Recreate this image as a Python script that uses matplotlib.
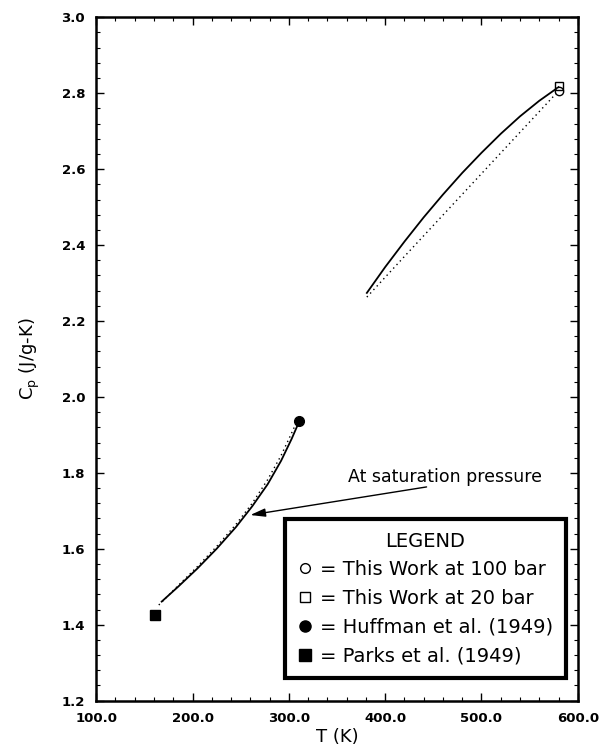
import matplotlib
matplotlib.use("Agg")
import matplotlib.pyplot as plt
from matplotlib.lines import Line2D
from matplotlib.ticker import MultipleLocator, FormatStrFormatter

# measured points
t_100bar = [580.0]
cp_100bar = [2.806]
t_20bar = [580.0]
cp_20bar = [2.818]
t_huffman = [311.0]
cp_huffman = [1.937]
t_parks = [161.0]
cp_parks = [1.425]

# correlation curves, upper branch (solid / dotted)
t_up_solid = [381, 400, 420, 440, 460, 480, 500, 520, 540, 560, 580]
cp_up_solid = [2.274, 2.342, 2.409, 2.473, 2.533, 2.590, 2.643, 2.693,
               2.739, 2.780, 2.816]
t_up_dot = [381, 420, 460, 500, 540, 580]
cp_up_dot = [2.263, 2.370, 2.479, 2.588, 2.697, 2.806]

# saturation branch (solid / dotted)
t_sat_solid = [168, 185, 205, 225, 245, 262, 278, 292, 303, 309]
cp_sat_solid = [1.461, 1.500, 1.548, 1.600, 1.657, 1.712, 1.770, 1.832,
                1.890, 1.925]
t_sat_dot = [165, 185, 205, 225, 245, 262, 278, 292, 302, 306]
cp_sat_dot = [1.452, 1.503, 1.553, 1.606, 1.664, 1.720, 1.782, 1.846,
              1.900, 1.922]

fig = plt.figure(figsize=(6.05, 7.51), dpi=100)
ax = fig.add_axes([0.159, 0.067, 0.796, 0.91])

ax.plot(t_up_solid, cp_up_solid, color="black", lw=1.3)
ax.plot(t_up_dot, cp_up_dot, color="black", lw=1.0, ls=(0, (1, 2.5)))
ax.plot(t_sat_solid, cp_sat_solid, color="black", lw=1.3)
ax.plot(t_sat_dot, cp_sat_dot, color="black", lw=1.0, ls=(0, (1, 2.5)))

ax.plot(t_100bar, cp_100bar, "o", mfc="white", mec="black", ms=6, mew=1.0)
ax.plot(t_20bar, cp_20bar, "s", mfc="none", mec="black", ms=6, mew=1.0)
ax.plot(t_huffman, cp_huffman, "o", color="black", ms=7)
ax.plot(t_parks, cp_parks, "s", color="black", ms=7)

ax.annotate("", xy=(260, 1.689), xytext=(443, 1.763),
            arrowprops=dict(arrowstyle="-|>,head_length=0.9,head_width=0.25",
                            color="black", lw=1.0, shrinkA=0, shrinkB=0))
ax.text(462, 1.789, "At saturation pressure", ha="center", va="center",
        fontsize=12.5)

ax.set_xlim(100, 600)
ax.set_ylim(1.2, 3.0)
ax.xaxis.set_major_locator(MultipleLocator(100))
ax.xaxis.set_minor_locator(MultipleLocator(20))
ax.yaxis.set_major_locator(MultipleLocator(0.2))
ax.yaxis.set_minor_locator(MultipleLocator(0.04))
ax.xaxis.set_major_formatter(FormatStrFormatter("%.1f"))
ax.yaxis.set_major_formatter(FormatStrFormatter("%.1f"))
ax.tick_params(which="both", direction="in", top=True, right=True)
ax.tick_params(which="major", length=6, width=1.0, labelsize=9.5, pad=8)
ax.tick_params(which="minor", length=3, width=0.8)
for lab in ax.get_xticklabels() + ax.get_yticklabels():
    lab.set_fontweight("bold")
for sp in ax.spines.values():
    sp.set_linewidth(1.8)

ax.set_xlabel("T (K)", fontsize=13, labelpad=2)
ax.set_ylabel("C$_\\mathregular{p}$ (J/g-K)", fontsize=13, labelpad=14)

handles = [
    Line2D([], [], ls="none", marker="o", mfc="white", mec="black", ms=7),
    Line2D([], [], ls="none", marker="s", mfc="white", mec="black", ms=7),
    Line2D([], [], ls="none", marker="o", color="black", ms=8),
    Line2D([], [], ls="none", marker="s", color="black", ms=8),
]
labels = [
    "= This Work at 100 bar",
    "= This Work at 20 bar",
    "= Huffman et al. (1949)",
    "= Parks et al. (1949)",
]
leg = ax.legend(handles, labels, title="LEGEND", loc="upper left",
                bbox_to_anchor=(0.392, 0.266), borderaxespad=0,
                fontsize=14, title_fontsize=14, frameon=True,
                fancybox=False, framealpha=1.0, handlelength=0.75,
                handletextpad=0.4, labelspacing=0.5, borderpad=0.65,
                alignment="center")
leg.get_frame().set_edgecolor("black")
leg.get_frame().set_linewidth(3.0)

fig.savefig("out.png", dpi=100)
